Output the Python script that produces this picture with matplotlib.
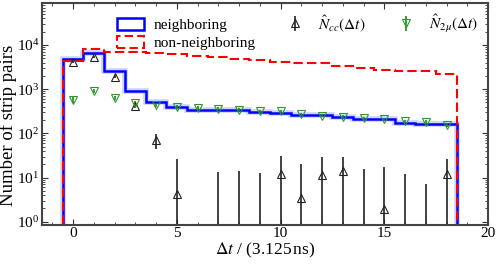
import numpy as np
import matplotlib
matplotlib.use("Agg")
import matplotlib.pyplot as plt
from matplotlib.patches import Rectangle
from matplotlib.ticker import MultipleLocator, LogLocator, NullFormatter

plt.rcParams['font.family'] = ['Liberation Serif', 'DejaVu Serif']
plt.rcParams['mathtext.fontset'] = 'stix'

# bins: delta t in units of 3.125 ns
bin_centers = np.arange(0, 19)
bin_edges = np.arange(-0.5, 19.0, 1.0)

neighboring = [4900, 6500, 2580, 910, 505, 400, 345, 340, 335, 300, 295, 262, 260, 240, 210, 208, 175, 163, 163]
non_neighboring = [4300, 8000, 7100, 6900, 6600, 6200, 5500, 5300, 4900, 4600, 4200, 3850, 3850, 3400, 2960, 2700, 2580, 2580, 2200]

# N_cc estimate with error
ncc_bins = [0, 1, 2, 3, 4, 5, 7, 8, 9, 10, 11, 12, 13, 14, 15, 16, 17, 18]
ncc_vals = [4200, 5400, 1900, 420, 70, 4.3, 0, 0, 0, 12.2, 3.45, 11.6, 13.8, 0, 1.9, 0, 0, 12.2]
ncc_errs = [250, 350, 150, 45, 25, 22.7, 13.4, 14.1, 12.9, 18.8, 17.0, 17.4, 16.0, 15.4, 15.5, 12.0, 7.3, 13.6]

# N_2mu estimate with error
n2mu_vals = [570, 930, 645, 480, 430, 400, 380, 360, 340, 321, 321, 270, 250, 240, 220, 208, 188, 182, 155]
n2mu_errs = [80, 100, 70, 50, 40, 35, 30, 28, 27, 25, 25, 22, 20, 20, 18, 17, 16, 15, 14]

fig = plt.figure(figsize=(4.98, 2.64), dpi=100)
ax = fig.add_axes([0.0843, 0.148, 0.8957, 0.839])
ax.set_yscale('log')

# light halo behind the neighboring histogram
ax.stairs(neighboring, bin_edges, color='#9aa8ff', lw=4, alpha=0.5)
ax.stairs(neighboring, bin_edges, color='#0000ff', lw=1.8)
ax.stairs(non_neighboring, bin_edges, color='#ff0000', lw=1.5, linestyle=(0, (4.5, 2)))

h3 = ax.errorbar(ncc_bins, ncc_vals, yerr=ncc_errs, fmt='^', ms=6, mfc='none',
                 mec='#222222', ecolor='#222222', elinewidth=1.2, mew=0.8,
                 label=r'$\hat{N}_{cc}(\Delta t)$')
h4 = ax.errorbar(bin_centers, n2mu_vals, yerr=n2mu_errs, fmt='v', ms=6, mfc='none',
                 mec='#2a9a2a', ecolor='#1f8a1f', elinewidth=1.2, mew=0.8,
                 label=r'$\hat{N}_{2\mu}(\Delta t)$')

h1 = Rectangle((0, 0), 1, 1, fill=False, edgecolor='#0000ff', lw=1.8, label='neighboring')
h2 = Rectangle((0, 0), 1, 1, fill=False, edgecolor='#ff0000', lw=1.5,
               linestyle=(0, (4, 2)), label='non-neighboring')

ax.set_xlim(-1.5, 20)
ax.set_ylim(0.85, 8.7e4)
ax.xaxis.set_major_locator(MultipleLocator(5))
ax.xaxis.set_minor_locator(MultipleLocator(1))
ax.yaxis.set_major_locator(LogLocator(base=10, numticks=10))
ax.yaxis.set_minor_locator(LogLocator(base=10, subs=np.arange(2, 10), numticks=10))
ax.yaxis.set_minor_formatter(NullFormatter())
ax.tick_params(which='both', direction='in', top=True, right=True, labelsize=11,
               colors='#333333', labelcolor='black', pad=2)
ax.tick_params(axis='x', which='both', pad=1.5)
ax.tick_params(which='major', length=4)
ax.tick_params(which='minor', length=2)
for s in ax.spines.values():
    s.set_color('#444444')
    s.set_linewidth(1.5)

ax.set_xlabel(r'$\Delta t$ / (3.125$\,$ns)', fontsize=12.5, labelpad=0.5)
ax.set_ylabel('Number of strip pairs', fontsize=13.5)
ax.yaxis.set_label_coords(-0.056, 0.45)

ax.legend(handles=[h1, h2, h3, h4], ncol=3, frameon=False, fontsize=11,
          loc='upper left', bbox_to_anchor=(0.137, 1.02), handlelength=1.8,
          handleheight=0.8, columnspacing=1.71, handletextpad=0.6, labelspacing=0.25)

fig.savefig('out.png', dpi=100)
